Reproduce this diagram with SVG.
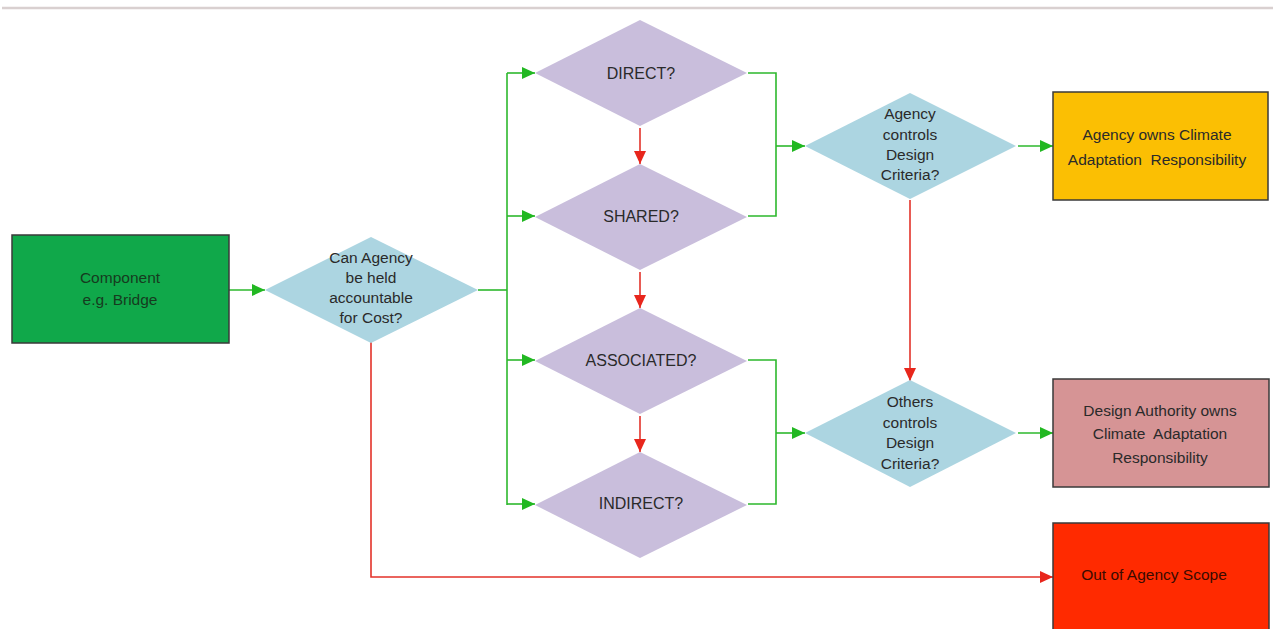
<svg xmlns="http://www.w3.org/2000/svg" width="1273" height="629" viewBox="0 0 1273 629">
  <style>
    .txt { font-family: "Liberation Sans", Arial, sans-serif; font-size: 15.5px; fill: #2a2a2a; text-anchor: middle; white-space: pre; }
    .q { fill: #c9bedc; }
    .c { fill: #acd5e1; }
    .box { stroke: #3a3a3a; stroke-width: 1.5; }
    .g { stroke: #2db82d; stroke-width: 1.6; fill: none; }
    .r { stroke: #e3322a; stroke-width: 1.6; fill: none; }
  </style>
  <defs>
    <marker id="ag" markerUnits="userSpaceOnUse" markerWidth="14" markerHeight="12" refX="13" refY="6" orient="auto">
      <path d="M0,0 L13,6 L0,12 Z" fill="#22b822"/>
    </marker>
    <marker id="ar" markerUnits="userSpaceOnUse" markerWidth="14" markerHeight="12" refX="13" refY="6" orient="auto">
      <path d="M0,0 L13,6 L0,12 Z" fill="#e8261c"/>
    </marker>
  </defs>

  <rect width="1273" height="629" fill="#ffffff"/>
  <!-- header rule -->
  <line x1="2" y1="8" x2="1273" y2="8" stroke="#d9d0d0" stroke-width="2.5"/>

  <!-- connectors -->
  <g id="connectors">
    <line class="g" x1="229" y1="290" x2="265" y2="290" marker-end="url(#ag)"/>
    <polyline class="g" points="478,290 507,290"/>
    <line class="g" x1="507" y1="73" x2="507" y2="505"/>
    <line class="g" x1="507" y1="73" x2="535" y2="73" marker-end="url(#ag)"/>
    <line class="g" x1="507" y1="216" x2="535" y2="216" marker-end="url(#ag)"/>
    <line class="g" x1="507" y1="360" x2="535" y2="360" marker-end="url(#ag)"/>
    <line class="g" x1="507" y1="504" x2="535" y2="504" marker-end="url(#ag)"/>

    <polyline class="g" points="748,73 776,73 776,216 748,216"/>
    <line class="g" x1="776" y1="146" x2="805" y2="146" marker-end="url(#ag)"/>
    <polyline class="g" points="748,360 776,360 776,504 748,504"/>
    <line class="g" x1="776" y1="433" x2="805" y2="433" marker-end="url(#ag)"/>

    <line class="g" x1="1018" y1="146" x2="1053" y2="146" marker-end="url(#ag)"/>
    <line class="g" x1="1018" y1="433" x2="1053" y2="433" marker-end="url(#ag)"/>

    <line class="r" x1="640" y1="128" x2="640" y2="164" marker-end="url(#ar)"/>
    <line class="r" x1="640" y1="272" x2="640" y2="308" marker-end="url(#ar)"/>
    <line class="r" x1="640" y1="416" x2="640" y2="452" marker-end="url(#ar)"/>
    <line class="r" x1="910" y1="200" x2="910" y2="381" marker-end="url(#ar)"/>
    <polyline class="r" points="371,342 371,577 1053,577" marker-end="url(#ar)"/>
  </g>

  <!-- start -->
  <g id="component">
    <rect class="box" x="12" y="235" width="217" height="108" fill="#10a84a"/>
    <text class="txt" x="120" y="283" style="fill:#163b1f">Component</text>
    <text class="txt" x="120" y="305" style="fill:#163b1f">e.g. Bridge</text>
  </g>

  <g id="accountable">
    <polygon class="c" points="371,237 478,290 371,343 265,290"/>
    <text class="txt" x="371" y="263">Can Agency</text>
    <text class="txt" x="371" y="283">be held</text>
    <text class="txt" x="371" y="303">accountable</text>
    <text class="txt" x="371" y="323">for Cost?</text>
  </g>

  <g id="direct">
    <polygon class="q" points="640,20 747,73 640,126 535,73"/>
    <text class="txt" x="641" y="79" style="font-size:16px">DIRECT?</text>
  </g>
  <g id="shared">
    <polygon class="q" points="640,164 747,217 640,270 535,217"/>
    <text class="txt" x="641" y="222" style="font-size:16px">SHARED?</text>
  </g>
  <g id="associated">
    <polygon class="q" points="640,308 747,361 640,414 535,361"/>
    <text class="txt" x="641" y="366" style="font-size:16px">ASSOCIATED?</text>
  </g>
  <g id="indirect">
    <polygon class="q" points="640,452 747,505 640,558 535,505"/>
    <text class="txt" x="641" y="509" style="font-size:16px">INDIRECT?</text>
  </g>

  <g id="agency-controls">
    <polygon class="c" points="910,93 1016,146 910,199 805,146"/>
    <text class="txt" x="910" y="119">Agency</text>
    <text class="txt" x="910" y="140">controls</text>
    <text class="txt" x="910" y="160">Design</text>
    <text class="txt" x="910" y="180">Criteria?</text>
  </g>

  <g id="others-control">
    <polygon class="c" points="910,380 1016,433 910,487 805,433"/>
    <text class="txt" x="910" y="407">Others</text>
    <text class="txt" x="910" y="428">controls</text>
    <text class="txt" x="910" y="448">Design</text>
    <text class="txt" x="910" y="469">Criteria?</text>
  </g>

  <g id="agency-owns">
    <rect class="box" x="1053" y="92" width="215" height="108" fill="#fbbf03"/>
    <text class="txt" x="1157" y="140">Agency owns Climate</text>
    <text class="txt" x="1157" y="165">Adaptation  Responsibility</text>
  </g>

  <g id="design-authority">
    <rect class="box" x="1053" y="379" width="216" height="108" fill="#d69495"/>
    <text class="txt" x="1160" y="416">Design Authority owns</text>
    <text class="txt" x="1160" y="439">Climate  Adaptation</text>
    <text class="txt" x="1160" y="463">Responsibility</text>
  </g>

  <g id="out-of-scope">
    <rect class="box" x="1053" y="523" width="216" height="120" fill="#ff2a00"/>
    <text class="txt" x="1154" y="580" style="fill:#3a0a00">Out of Agency Scope</text>
  </g>
</svg>
